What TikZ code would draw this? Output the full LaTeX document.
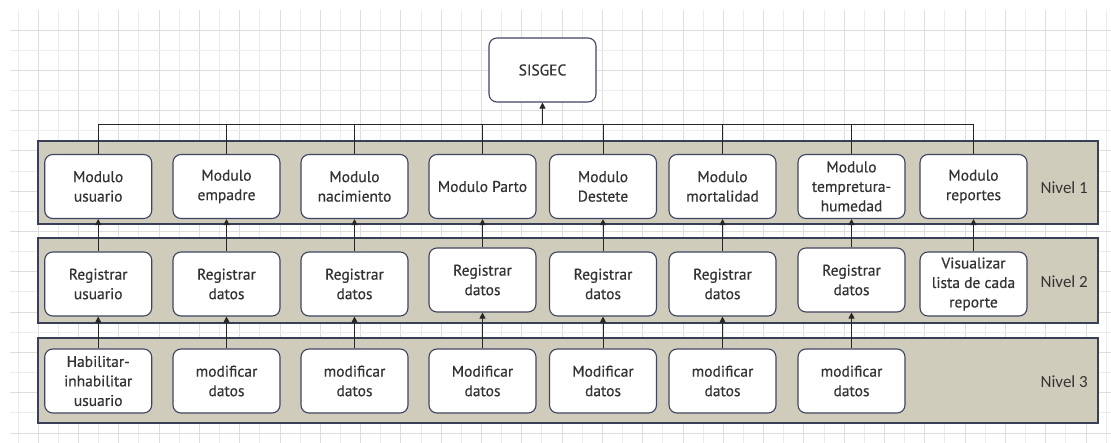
\documentclass[tikz,border=0pt]{standalone}
\usepackage{fontspec}
\setmainfont{PT Sans}
\newfontfamily\boxfont[FakeBold=0.5]{PT Sans}
\newfontfamily\nivfont{Carlito}
\usetikzlibrary{arrows.meta}
\definecolor{band}{HTML}{D0CCBC}
\definecolor{bandline}{HTML}{3A3F58}
\definecolor{boxline}{HTML}{3F4560}
\definecolor{txt}{HTML}{333333}
\definecolor{gridA}{HTML}{DEDEDE}
\definecolor{gridB}{HTML}{ECECEC}
\tikzset{
 modbox/.style={draw=boxline, line width=1.1pt, rounded corners=8pt, fill=white, minimum width=107pt, minimum height=64pt, inner sep=1pt, align=center, text=txt, font=\boxfont\fontsize{15.5}{19.5}\selectfont},
 bandbox/.style={draw=bandline, line width=1.1pt, fill=band},
 link/.style={draw=black!85, line width=0.9pt},
 uparrow/.style={link, -{Triangle[length=6pt,width=6pt]}},
 nivlabel/.style={anchor=east, text=txt, font=\nivfont\fontsize{17}{20}\selectfont, inner sep=0pt}
}
\begin{document}
\begin{tikzpicture}[x=1pt,y=-1pt]
\useasboundingbox (0,0) rectangle (1111,443);
\fill[white] (0,0) rectangle (1111,443);
% background grid
\foreach \k in {0,...,54}{
  \pgfmathsetmacro{\gx}{18+20.15*\k}
  \pgfmathtruncatemacro{\odd}{mod(\k,2)}
  \ifnum\odd=1 \draw[gridA,line width=0.9pt] (\gx,10) -- (\gx,443);
  \else \draw[gridB,line width=0.9pt] (\gx,10) -- (\gx,443); \fi
}
\foreach \k in {0,...,20}{
  \pgfmathsetmacro{\gy}{30+20.15*\k}
  \pgfmathtruncatemacro{\odd}{mod(\k,2)}
  \ifnum\odd=0 \draw[gridA,line width=0.9pt] (10,\gy) -- (1111,\gy);
  \else \draw[gridB,line width=0.9pt] (10,\gy) -- (1111,\gy); \fi
}
% bands
\path[bandbox] (38,141) rectangle (1098,224);
\path[bandbox] (38,238) rectangle (1098,323);
\path[bandbox] (38,338) rectangle (1098,423);
% root
\node[modbox] (sis) at (542.5,70) {SISGEC};
% level 1
\node[modbox] (m1) at (98.2,186.5) {Modulo\\usuario};
\node[modbox] (m2) at (226.5,186.5) {Modulo\\empadre};
\node[modbox] (m3) at (354.5,186.5) {Modulo\\nacimiento};
\node[modbox] (m4) at (482.5,186.5) {Modulo Parto};
\node[modbox] (m5) at (603,186.5) {Modulo\\Destete};
\node[modbox] (m6) at (722.5,186.5) {Modulo\\mortalidad};
\node[modbox] (m7) at (851.5,186.5) {Modulo\\tempretura-\\humedad};
\node[modbox] (m8) at (973.5,186.5) {Modulo\\reportes};
% level 2
\node[modbox] (r1) at (98.2,284) {Registrar\\usuario};
\node[modbox] (r2) at (226.5,284) {Registrar\\datos};
\node[modbox] (r3) at (354.5,284) {Registrar\\datos};
\node[modbox] (r4) at (482.5,280) {Registrar\\datos};
\node[modbox] (r5) at (603,284) {Registrar\\datos};
\node[modbox] (r6) at (722.5,284) {Registrar\\datos};
\node[modbox] (r7) at (851.5,280) {Registrar\\datos};
\node[modbox] (r8) at (973.5,284) {Visualizar\\lista de cada\\reporte};
% level 3
\node[modbox] (h1) at (98.2,381) {Habilitar-\\inhabilitar\\usuario};
\node[modbox] (h2) at (226.5,381) {modificar\\datos};
\node[modbox] (h3) at (354.5,381) {modificar\\datos};
\node[modbox] (h4) at (482.5,381) {Modificar\\datos};
\node[modbox] (h5) at (603,381) {Modificar\\datos};
\node[modbox] (h6) at (722.5,381) {modificar\\datos};
\node[modbox] (h7) at (851.5,381) {modificar\\datos};
% level labels
\node[nivlabel] (n1) at (1088,188) {Nivel 1};
\node[nivlabel] (n2) at (1088,282) {Nivel 2};
\node[nivlabel] (n3) at (1088,382) {Nivel 3};
% bus to root
\coordinate (bus) at (542.5,124);
\draw[link] (m1.north |- bus) -- (m8.north |- bus);
\foreach \i in {1,...,8}{ \draw[link] (m\i.north) -- (m\i.north |- bus); }
\draw[uparrow] (bus) -- (sis.south);
% level 2 -> level 1
\foreach \i in {1,...,8}{ \draw[uparrow] (r\i.north) -- (m\i.south); }
% level 3 -> level 2
\foreach \i in {1,...,7}{ \draw[uparrow] (h\i.north) -- (r\i.south); }
\end{tikzpicture}
\end{document}
